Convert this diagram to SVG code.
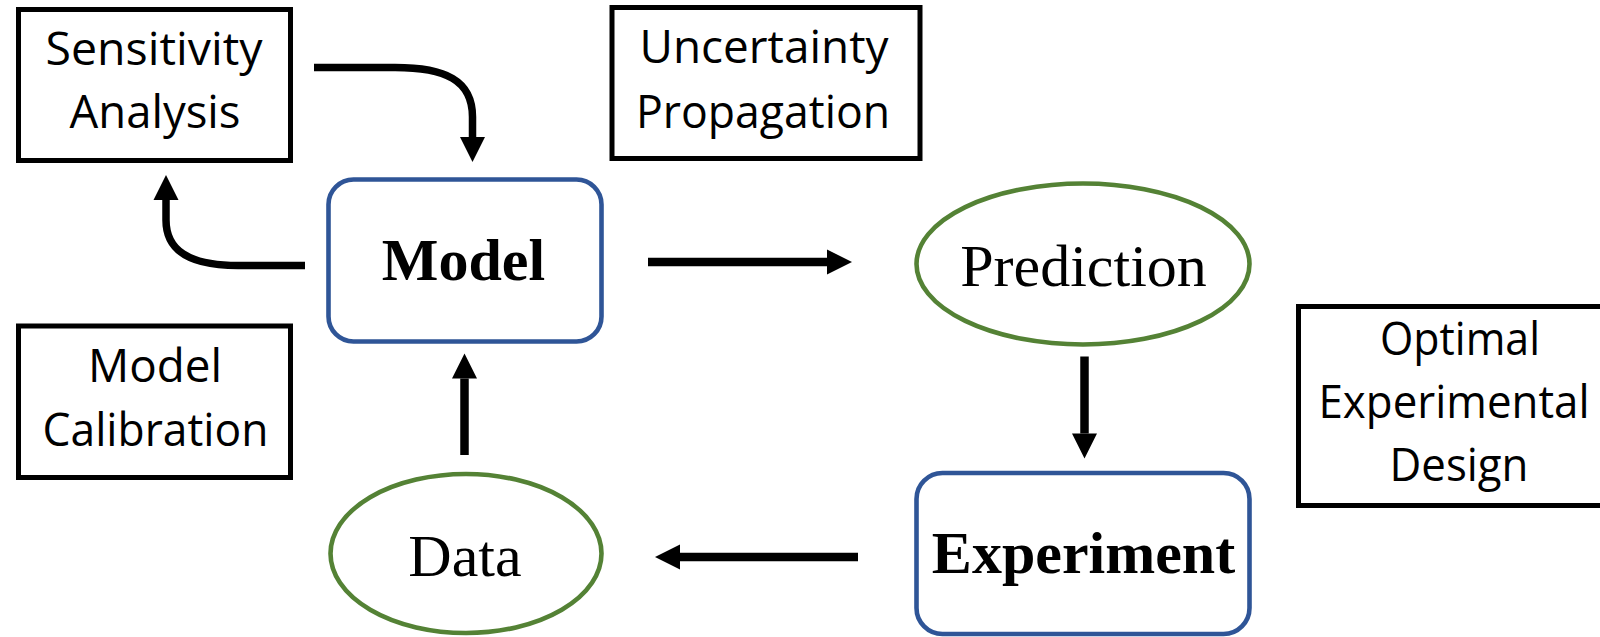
<svg xmlns="http://www.w3.org/2000/svg" width="1600" height="637" viewBox="0 0 1600 637">
  <defs>
    <style>
      .box { fill: #ffffff; stroke: #000000; stroke-width: 5; }
      .blue { fill: #ffffff; stroke: #2f5597; stroke-width: 4.6; }
      .green { fill: #ffffff; stroke: #548235; stroke-width: 4.6; }
      .label { font-family: "Open Sans", "Noto Sans", "Liberation Sans", sans-serif; font-size: 46px; fill: #000000; text-anchor: middle; }
      .serif { font-family: "Liberation Serif", "Times New Roman", serif; font-size: 60px; fill: #000000; text-anchor: middle; }
      .bold { font-weight: bold; }
      .link { fill: none; stroke: #000000; stroke-width: 8.5; stroke-linecap: butt; marker-end: url(#head); }
      .curve { fill: none; stroke: #000000; stroke-width: 7.5; stroke-linecap: butt; marker-end: url(#head); }
    </style>
    <marker id="head" markerUnits="userSpaceOnUse" markerWidth="25" markerHeight="25" refX="0" refY="12.5" orient="auto" overflow="visible">
      <path d="M0,0 L25,12.5 L0,25 Z" fill="#000000"/>
    </marker>
  </defs>

  <!-- method boxes -->
  <g id="sensitivity-analysis">
    <rect class="box" x="18.5" y="9.5" width="272" height="151"/>
    <text class="label" x="154" y="65" textLength="217" lengthAdjust="spacingAndGlyphs">Sensitivity</text>
    <text class="label" x="155" y="128" textLength="171" lengthAdjust="spacingAndGlyphs">Analysis</text>
  </g>

  <g id="uncertainty-propagation">
    <rect class="box" x="612" y="7.5" width="308" height="151"/>
    <text class="label" x="764" y="63" textLength="249" lengthAdjust="spacingAndGlyphs">Uncertainty</text>
    <text class="label" x="763" y="127.5" textLength="254" lengthAdjust="spacingAndGlyphs">Propagation</text>
  </g>

  <g id="model-calibration">
    <rect class="box" x="18.5" y="326" width="272" height="151.5"/>
    <text class="label" x="155" y="381.5" textLength="134" lengthAdjust="spacingAndGlyphs">Model</text>
    <text class="label" x="155.5" y="446" textLength="226" lengthAdjust="spacingAndGlyphs">Calibration</text>
  </g>

  <g id="optimal-experimental-design">
    <rect class="box" x="1298.5" y="306.5" width="320" height="199"/>
    <text class="label" x="1460" y="355" textLength="160" lengthAdjust="spacingAndGlyphs">Optimal</text>
    <text class="label" x="1454" y="418" textLength="271" lengthAdjust="spacingAndGlyphs">Experimental</text>
    <text class="label" x="1459" y="481" textLength="139" lengthAdjust="spacingAndGlyphs">Design</text>
  </g>

  <!-- cycle nodes -->
  <g id="model">
    <rect class="blue" x="328.5" y="179.5" width="273" height="162" rx="25" ry="25"/>
    <text class="serif bold" x="463.5" y="280">Model</text>
  </g>

  <g id="prediction">
    <ellipse class="green" cx="1083" cy="264" rx="166.5" ry="80.5"/>
    <text class="serif" x="1083.5" y="286">Prediction</text>
  </g>

  <g id="experiment">
    <rect class="blue" x="916.5" y="473" width="333" height="161" rx="26" ry="26"/>
    <text class="serif bold" x="1083.5" y="573">Experiment</text>
  </g>

  <g id="data">
    <ellipse class="green" cx="466" cy="553.5" rx="135.5" ry="79.5"/>
    <text class="serif" x="465" y="576">Data</text>
  </g>

  <!-- connectors -->
  <g id="connectors">
    <path class="link" d="M648,262 H827"/>
    <path class="link" d="M1084.5,356.5 V433.5"/>
    <path class="link" d="M858,557 H680"/>
    <path class="link" d="M464.5,455 V378.5"/>
    <path class="curve" d="M314,67.5 L395,67.5 C445,67.5 472.5,80 472.5,117 L472.5,137"/>
    <path class="curve" d="M305,265.5 L238,265.5 C188,265.5 166,250 166,220 L166,200"/>
  </g>
</svg>
